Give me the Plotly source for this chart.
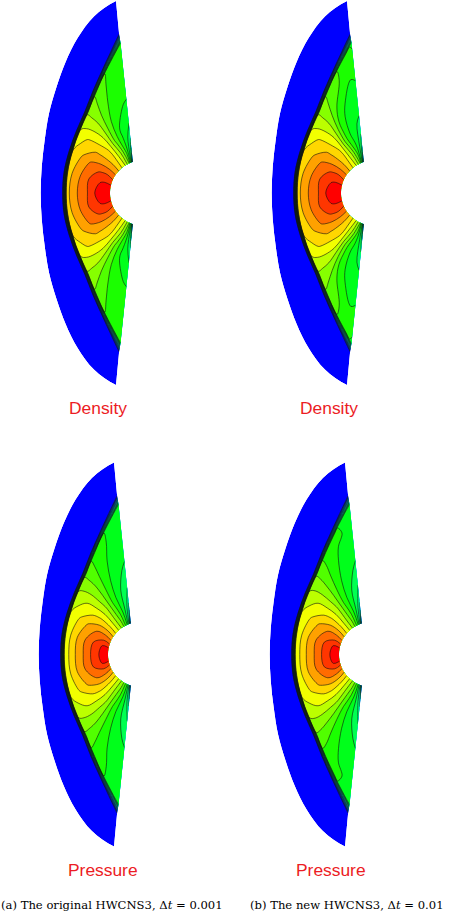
import numpy as np
import plotly.graph_objects as go

# stations along the body, angle from the stagnation line (degrees), upper half
wall_angle = [0, 12, 24, 36, 48, 58, 66, 70, 73]
body_radius = 32.4
# x/y offset from the cylinder centre, upper half
shock_in_x = [-76, -74.6, -69.5, -62.3, -54, -45.5, -36.5, -26.5, -21.8]
shock_in_y = [0, 21, 42, 62, 81, 102, 121.5, 141, 150]
shock_out_x = [-80, -78.6, -73.5, -66.3, -58, -49.8, -41.2, -32.3, -23.4]
shock_out_y = [0, 21, 42, 62, 81, 102, 121.5, 141, 160]
outer_x = [-101.7, -100.6, -97.6, -93.3, -85.9, -76.8, -64.8, -48.5, -26.4]
outer_y = [0, 26.9, 53.7, 80, 106, 131, 155, 176.6, 192]
eta = [0, .15, .35, .55, .75, .9, 1.0]

density_a = [
    [1.00, .975, .95, .89, .85, .81, .78],
    [.96, .96, .94, .89, .84, .80, .77],
    [.90, .91, .89, .86, .81, .775, .755],
    [.84, .83, .81, .79, .76, .73, .71],
    [.77, .76, .74, .70, .67, .65, .64],
    [.70, .66, .58, .56, .565, .58, .585],
    [.60, .53, .49, .52, .535, .54, .545],
    [.45, .44, .465, .505, .52, .53, .52],
    [.22, .38, .46, .505, .52, .53, .50],
]
density_b = [
    [1.00, .975, .95, .89, .85, .81, .78],
    [.96, .96, .94, .89, .84, .80, .77],
    [.90, .91, .89, .86, .81, .775, .755],
    [.84, .83, .81, .79, .76, .73, .71],
    [.77, .76, .74, .70, .67, .65, .64],
    [.70, .65, .56, .54, .56, .58, .585],
    [.60, .52, .47, .48, .52, .55, .55],
    [.45, .44, .45, .47, .50, .52, .51],
    [.22, .37, .44, .49, .505, .51, .49],
]
pressure_a = [
    [1.00, .965, .915, .855, .80, .75, .72],
    [.95, .95, .905, .85, .795, .745, .715],
    [.86, .87, .85, .81, .76, .725, .705],
    [.78, .78, .76, .73, .70, .675, .66],
    [.70, .68, .66, .63, .61, .595, .585],
    [.62, .58, .53, .52, .52, .525, .525],
    [.50, .48, .46, .475, .49, .50, .50],
    [.38, .40, .43, .46, .48, .49, .48],
    [.18, .34, .42, .455, .475, .49, .46],
]
pressure_b = [
    [1.00, .965, .915, .855, .80, .75, .72],
    [.95, .95, .905, .85, .795, .745, .715],
    [.86, .87, .85, .81, .76, .725, .705],
    [.78, .78, .76, .73, .70, .675, .66],
    [.70, .68, .66, .63, .61, .60, .59],
    [.62, .58, .53, .52, .525, .53, .525],
    [.50, .48, .46, .475, .49, .505, .505],
    [.38, .40, .43, .46, .48, .495, .485],
    [.18, .34, .41, .455, .475, .49, .46],
]
panel_tables = [density_a, density_b, pressure_a, pressure_b]
# cylinder centre of each panel on the page (px)
centre_x = [142.4, 373.4, 140.4, 371.4]
centre_y = [193, 193, 654.5, 654.5]
labels = ["Density", "Density", "Pressure", "Pressure"]
label_x = [98, 329, 102.5, 330.5]
label_y = [408, 408, 870, 870]
captions = ["(a) The original HWCNS3, Δ<i>t</i> = 0.001", "(b) The new HWCNS3, Δ<i>t</i> = 0.01"]
caption_x = [0, 249]
rainbow = [[0, "#0000ff"], [.25, "#00ffff"], [.5, "#00ff00"], [.75, "#ffff00"], [1, "#ff0000"]]

W, H = 450, 914
fig = go.Figure()


def mirror(v, sign=1):
    v = np.asarray(v, float)
    return np.concatenate([sign * v[:0:-1], v])


th = np.radians(wall_angle)
wx = -body_radius * np.cos(th)
wy = body_radius * np.sin(th)
b_vals = mirror(wall_angle, -1)
a_vals = eta + [1.05, 1.2]

for k, table in enumerate(panel_tables):
    n = "" if k == 0 else str(k + 1)
    xa, ya = f"x{n}", f"y{n}"
    left = k % 2 == 0
    top = k < 2
    xd = [0, .5] if left else [.5, 1]
    yd = [.5, 1] if top else [0, .5]
    x0 = 0 if left else W / 2
    y0 = 0 if top else H / 2
    fig.update_layout({
        f"xaxis{n}": dict(domain=xd, range=[x0 - centre_x[k], x0 + W / 2 - centre_x[k]], visible=False, anchor=ya),
        f"yaxis{n}": dict(domain=yd, range=[centre_y[k] - y0 - H / 2, centre_y[k] - y0], visible=False, anchor=xa),
    })
    X, Y, Z = [], [], []
    for side in (-1, 1):
        idx = range(len(wall_angle) - 1, 0, -1) if side == -1 else range(len(wall_angle))
        for i in idx:
            rx, ry = [], []
            for e in eta:
                rx.append(wx[i] + e * (shock_in_x[i] - wx[i]))
                ry.append(wy[i] + e * (shock_in_y[i] - wy[i]))
            rx += [shock_out_x[i], outer_x[i]]
            ry += [shock_out_y[i], outer_y[i]]
            X.append(rx)
            Y.append([side * v for v in ry])
            Z.append(list(table[i]) + [0.0, 0.0])
    cid = f"c{k}"
    fig.add_trace(go.Carpet(
        carpet=cid, a=a_vals, b=b_vals, x=X, y=Y, xaxis=xa, yaxis=ya,
        aaxis=dict(smoothing=0, showgrid=False, showticklabels="none", startline=False, endline=False, minorgridcount=0),
        baxis=dict(smoothing=1, showgrid=False, showticklabels="none", startline=False, endline=False, minorgridcount=0),
    ))
    fig.add_trace(go.Contourcarpet(
        carpet=cid, a=a_vals, b=b_vals, z=Z, xaxis=xa, yaxis=ya,
        autocontour=False, contours=dict(start=.05, end=.95, size=.05, coloring="fill", showlines=True),
        line=dict(color="#111111", width=.6, smoothing=1),
        colorscale=rainbow, zmin=0, zmax=1, showscale=False,
    ))
    fig.add_annotation(xref="paper", yref="paper", x=label_x[k] / W, y=1 - label_y[k] / H, text=labels[k],
                       xanchor="center", yanchor="middle",
                       showarrow=False, font=dict(family="Liberation Sans", size=17.4, color="#ec1c24"))

for cap, cx in zip(captions, caption_x):
    fig.add_annotation(xref="paper", yref="paper", x=cx / W, y=1 - 905 / H, xanchor="left", yanchor="middle", text=cap,
                       showarrow=False, borderpad=0, font=dict(family="DejaVu Serif", size=11.6, color="black"))

fig.update_layout(width=W, height=H, margin=dict(l=0, r=0, t=0, b=0), showlegend=False,
                  paper_bgcolor="white", plot_bgcolor="white")
fig.write_html("out.html", post_script="document.body.style.margin='0';", config={"displayModeBar": False})
